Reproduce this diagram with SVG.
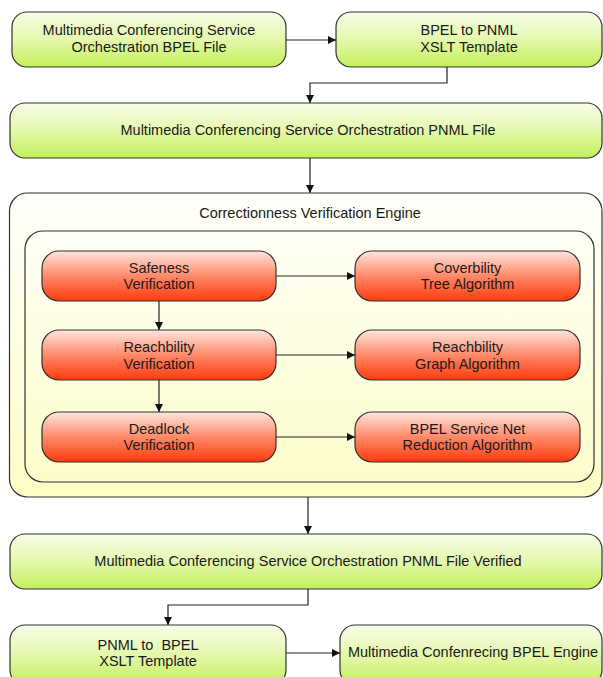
<svg xmlns="http://www.w3.org/2000/svg" width="603" height="677" viewBox="0 0 603 677">
  <style>
    .lbl { font-family: "Liberation Sans", Arial, sans-serif; font-size: 14.5px; fill: #1a1a1a; text-anchor: middle; }
    .green { fill: url(#gGreen); stroke: #333; stroke-width: 1.2; }
    .red { fill: url(#gRed); stroke: #333; stroke-width: 1.2; }
    .outer { fill: url(#gOuter); stroke: #333; stroke-width: 1.2; }
    .inner { fill: url(#gInner); stroke: #333; stroke-width: 1.2; }
    .edge { fill: none; stroke: #222; stroke-width: 1.2; marker-end: url(#arrow); }
  </style>
  <defs>
    <linearGradient id="gGreen" x1="0" y1="0" x2="0" y2="1">
      <stop offset="0" stop-color="#f7fde8"/>
      <stop offset="0.5" stop-color="#e4f8ac"/>
      <stop offset="1" stop-color="#c3f05a"/>
    </linearGradient>
    <linearGradient id="gRed" x1="0" y1="0" x2="0" y2="1">
      <stop offset="0" stop-color="#ffe6de"/>
      <stop offset="0.5" stop-color="#ff8a6a"/>
      <stop offset="1" stop-color="#ff3a0c"/>
    </linearGradient>
    <linearGradient id="gOuter" x1="0" y1="0" x2="0" y2="1">
      <stop offset="0" stop-color="#fffffb"/>
      <stop offset="1" stop-color="#fdfdc6"/>
    </linearGradient>
    <linearGradient id="gInner" x1="0" y1="0" x2="0" y2="1">
      <stop offset="0" stop-color="#fffff6"/>
      <stop offset="1" stop-color="#fcfcca"/>
    </linearGradient>
    <marker id="arrow" viewBox="0 0 10 10" refX="10" refY="5" markerWidth="8" markerHeight="8" markerUnits="userSpaceOnUse" orient="auto">
      <path d="M0,0 L10,5 L0,10 z" fill="#111"/>
    </marker>
  </defs>

  <!-- containers -->
  <g id="engine">
    <rect class="outer" x="9.5" y="193" width="592.5" height="304" rx="18"/>
    <text class="lbl" x="310" y="218">Correctionness Verification Engine</text>
    <rect class="inner" x="25" y="231" width="569" height="251" rx="18"/>
  </g>

  <!-- transformation chain -->
  <g id="bpelFile">
    <rect class="green" x="12" y="12" width="274" height="55" rx="15"/>
    <text class="lbl" x="149" y="35">Multimedia Conferencing Service</text>
    <text class="lbl" x="149" y="52">Orchestration BPEL File</text>
  </g>
  <g id="bpel2pnml">
    <rect class="green" x="336" y="12" width="266" height="55" rx="15"/>
    <text class="lbl" x="469" y="35">BPEL to PNML</text>
    <text class="lbl" x="469" y="52">XSLT Template</text>
  </g>
  <g id="pnmlFile">
    <rect class="green" x="10" y="103" width="592" height="55" rx="15"/>
    <text class="lbl" x="308" y="135">Multimedia Conferencing Service Orchestration PNML File</text>
  </g>

  <!-- verification steps -->
  <g id="safeness">
    <rect class="red" x="42" y="251" width="234" height="50" rx="17"/>
    <text class="lbl" x="159" y="272.5">Safeness</text>
    <text class="lbl" x="159" y="289">Verification</text>
  </g>
  <g id="coverability">
    <rect class="red" x="355" y="251" width="225" height="50" rx="17"/>
    <text class="lbl" x="467.5" y="272.5">Coverbility</text>
    <text class="lbl" x="467.5" y="289">Tree Algorithm</text>
  </g>
  <g id="reachability">
    <rect class="red" x="42" y="330" width="234" height="50" rx="17"/>
    <text class="lbl" x="159" y="352">Reachbility</text>
    <text class="lbl" x="159" y="368.5">Verification</text>
  </g>
  <g id="reachGraph">
    <rect class="red" x="355" y="330" width="225" height="50" rx="17"/>
    <text class="lbl" x="467.5" y="352">Reachbility</text>
    <text class="lbl" x="467.5" y="368.5">Graph Algorithm</text>
  </g>
  <g id="deadlock">
    <rect class="red" x="42" y="412" width="234" height="50" rx="17"/>
    <text class="lbl" x="159" y="433.5">Deadlock</text>
    <text class="lbl" x="159" y="450">Verification</text>
  </g>
  <g id="reduction">
    <rect class="red" x="355" y="412" width="225" height="50" rx="17"/>
    <text class="lbl" x="467.5" y="433.5">BPEL Service Net</text>
    <text class="lbl" x="467.5" y="450">Reduction Algorithm</text>
  </g>

  <!-- back-transformation chain -->
  <g id="pnmlVerified">
    <rect class="green" x="10" y="534" width="592" height="55" rx="15"/>
    <text class="lbl" x="308" y="566">Multimedia Conferencing Service Orchestration PNML File Verified</text>
  </g>
  <g id="pnml2bpel">
    <rect class="green" x="10" y="625" width="276" height="60" rx="15"/>
    <text class="lbl" x="148" y="649.5">PNML to&#160; BPEL</text>
    <text class="lbl" x="148" y="666">XSLT Template</text>
  </g>
  <g id="bpelEngine">
    <rect class="green" x="340" y="625" width="262" height="60" rx="15"/>
    <text class="lbl" x="473" y="657">Multimedia Confenrecing BPEL Engine</text>
  </g>

  <!-- connectors -->
  <g id="connectors">
    <path class="edge" d="M286,40 H336"/>
    <path class="edge" d="M447,67 V83 H310 V103"/>
    <path class="edge" d="M310,158 V193"/>
    <path class="edge" d="M276,276 H355"/>
    <path class="edge" d="M159,301 V330"/>
    <path class="edge" d="M276,355 H355"/>
    <path class="edge" d="M159,380 V412"/>
    <path class="edge" d="M276,437 H355"/>
    <path class="edge" d="M308,497 V534"/>
    <path class="edge" d="M308,589 V605 H168 V625"/>
    <path class="edge" d="M286,653 H340"/>
  </g>
</svg>
